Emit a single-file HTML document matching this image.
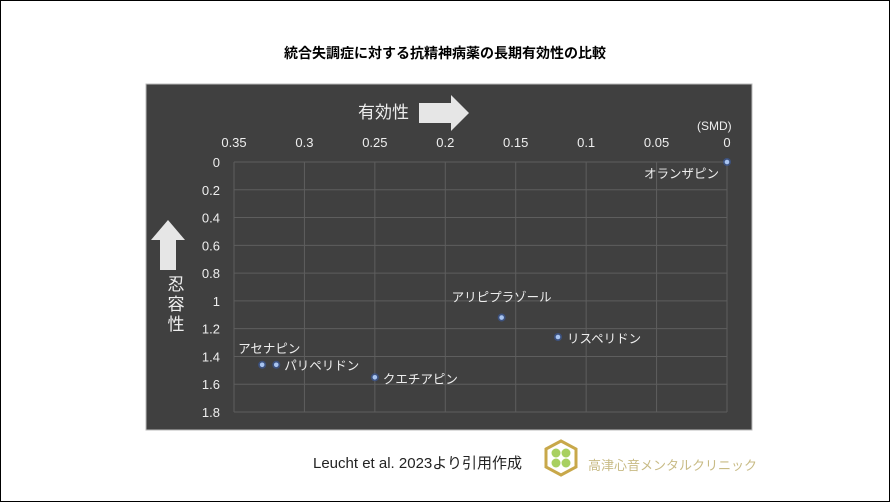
<!DOCTYPE html>
<html><head><meta charset="utf-8">
<style>
body{margin:0;width:890px;height:502px;background:#fff;overflow:hidden;font-family:"Liberation Sans","Noto Sans CJK JP",sans-serif;}
#frame{position:absolute;left:0;top:0;width:888px;height:500px;border:1px solid #000;}
#title{position:absolute;left:0;width:890px;top:43px;text-align:center;font-size:14px;font-weight:bold;color:#000;}
#cite{position:absolute;left:313px;top:452px;font-size:15px;color:#222;}
#clinic{position:absolute;left:588px;top:455px;font-size:13px;color:#c8bb85;}
</style></head><body>
<div id="frame"></div>
<div id="title">統合失調症に対する抗精神病薬の長期有効性の比較</div>
<svg width="890" height="502" style="position:absolute;left:0;top:0">
<rect x="146" y="84" width="606" height="346" fill="#404040" stroke="#bbb"/>
<g id="grid"></g>
<g id="ticks" font-size="13" fill="#eee"></g>
<g id="marks"></g>
<text x="358" y="118" font-size="17" fill="#eee">有効性</text>
<polygon points="419,103 451,103 451,95 469,113 451,131 451,123 419,123" fill="#e6e6e6"/>
<polygon points="160,270 176,270 176,240 185,240 168,220 151,240 160,240" fill="#e6e6e6"/>
<text font-size="17" fill="#eee" text-anchor="middle"><tspan x="176" y="290">忍</tspan><tspan x="176" y="310">容</tspan><tspan x="176" y="330">性</tspan></text>
<text x="697" y="130" font-size="12" fill="#eee">(SMD)</text>
<g>
<polygon points="546,449 561,441 576,449 576,467 561,475 546,467" fill="#fff" stroke="#c8a84a" stroke-width="3"/>
<circle cx="556" cy="453" r="4.5" fill="#a8d060"/><circle cx="566" cy="453" r="4.5" fill="#a8d060"/><circle cx="556" cy="463" r="4.5" fill="#a8d060"/><circle cx="566" cy="463" r="4.5" fill="#a8d060"/>
</g>
</svg>
<div id="cite">Leucht et al. 2023より引用作成</div>
<div id="clinic">高津心音メンタルクリニック</div>
<script>
const names=["オランザピン","アリピプラゾール","リスペリドン","アセナピン","パリペリドン","クエチアピン"];
const efficacy=[0,0.16,0.12,0.33,0.32,0.25];
const tolerance=[0,1.12,1.26,1.46,1.46,1.55];
const xTicks=[0.35,0.3,0.25,0.2,0.15,0.1,0.05,0];
const yTicks=[0,0.2,0.4,0.6,0.8,1,1.2,1.4,1.6,1.8];
const X0=727,X1=234,Y0=162,Y1=412;
const sx=v=>X0+(X1-X0)*v/0.35, sy=v=>Y0+(Y1-Y0)*v/1.8;
const NS="http://www.w3.org/2000/svg";
const grid=document.getElementById('grid'),ticks=document.getElementById('ticks'),marks=document.getElementById('marks');
function mk(tag,attrs,parent,txt){const e=document.createElementNS(NS,tag);for(const k in attrs)e.setAttribute(k,attrs[k]);if(txt!==undefined)e.textContent=txt;parent.appendChild(e);return e;}
xTicks.forEach(t=>{
 const l=mk('line',{x1:sx(t),x2:sx(t),y1:Y0,y2:Y1,stroke:'#5e5e5e','stroke-width':1},grid);
 
 
 const tx=mk('text',{x:sx(t),y:147,'text-anchor':'middle'},ticks,String(t));
 
 
});
yTicks.forEach(t=>{
 const l=mk('line',{x1:X1,x2:X0,y1:sy(t),y2:sy(t),stroke:'#5e5e5e','stroke-width':1},grid);
 
 
 const tx=mk('text',{x:220,y:sy(t)+5,'text-anchor':'end'},ticks,String(t));
 
 
});
const lab=[[-8,16,'end'],[0,-16,'middle'],[9,6,'start'],[-24,-12,'start'],[8,5,'start'],[8,6,'start']];
names.forEach((n,i)=>{
 const cx=sx(efficacy[i]),cy=sy(tolerance[i]);
 const h=mk('circle',{cx:cx,cy:cy,r:4,fill:'#3a5da8',opacity:0.6},marks);
 
 
 const c=mk('circle',{cx:cx,cy:cy,r:2.3,fill:'#a8c4f0'},marks);
 
 
 const L=lab[i];
 const t=mk('text',{x:cx+L[0],y:cy+L[1],'text-anchor':L[2],'font-size':12.5,fill:'#eee'},marks,n);
 
 
});
</script>
</body></html>
